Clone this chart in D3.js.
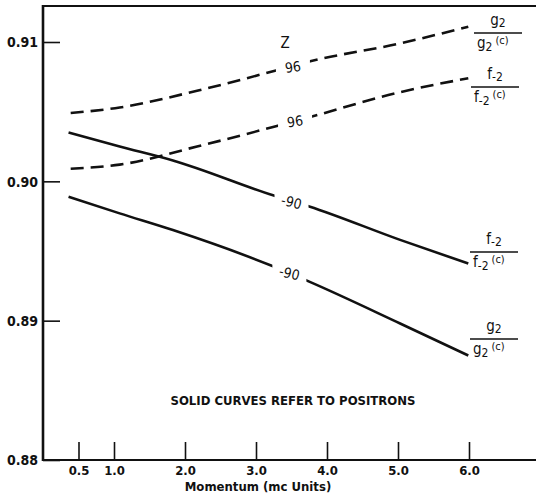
<!DOCTYPE html>
<html>
<head>
<meta charset="utf-8">
<script src="https://cdn.jsdelivr.net/npm/d3@7"></script>
<style>
  body { margin: 0; background: #fff; }
  svg text { font-family: "Liberation Sans Narrow", "DejaVu Sans Condensed", "Liberation Sans", sans-serif; fill: #111; }
</style>
</head>
<body>
<div id="chart"></div>
<script>
// momentum values (mc units) where the curves were read
const momentum = [0.39, 1.08, 2.17, 3.24, 3.75, 5.03, 5.99];
// Z = 96, dashed
const g2Z96 = [0.9049, 0.9053, 0.9065, 0.9079, 0.9086, 0.9099, 0.9111];
const f2Z96 = [0.9009, 0.9012, 0.9025, 0.9039, 0.9046, 0.9064, 0.9074];
// Z = -90, solid (positrons)
const momentumPos = [0.36, 1.08, 1.83, 3.24, 3.75, 5.03, 5.99];
const f2Zm90 = [0.9035, 0.9025, 0.9015, 0.8990, 0.8982, 0.8958, 0.8941];
const g2Zm90 = [0.8989, 0.8977, 0.8965, 0.8939, 0.8928, 0.8898, 0.8875];

const xTicks = [0.5, 1.0, 2.0, 3.0, 4.0, 5.0, 6.0];
const yTicks = [0.88, 0.89, 0.90, 0.91];

const width = 536, height = 495;
const svg = d3.select("#chart").append("svg")
    .attr("width", width)
    .attr("height", height);

const x = d3.scaleLinear().domain([0, 7]).range([43, 540]);
const y = d3.scaleLinear().domain([0.88, 0.91]).range([460, 42]);

// y axis (ticks point inward)
const yAxis = svg.append("g")
    .attr("transform", "translate(43,0)")
    .call(d3.axisLeft(y).tickValues(yTicks).tickSize(-17).tickPadding(5)
        .tickFormat(d => d3.format(".2f")(d)));
yAxis.select(".domain").remove();
yAxis.selectAll("line").attr("stroke", "#111").attr("stroke-width", 1.6);
yAxis.selectAll("text")
    .style("font-size", "14px")
    .style("font-weight", "bold")
    .attr("dy", "0.35em");

// x axis (ticks point up)
const xAxis = svg.append("g")
    .attr("transform", "translate(0,460)")
    .call(d3.axisBottom(x).tickValues(xTicks).tickSize(-18).tickPadding(6)
        .tickFormat(d3.format(".1f")));
xAxis.select(".domain").remove();
xAxis.selectAll("line").attr("stroke", "#111").attr("stroke-width", 1.6);
xAxis.selectAll("text")
    .style("font-size", "13px")
    .style("font-weight", "bold");

// frame: left, top, bottom
svg.append("line").attr("x1", 43).attr("x2", 43).attr("y1", 5).attr("y2", 461)
    .attr("stroke", "#111").attr("stroke-width", 2.6);
svg.append("line").attr("x1", 42).attr("x2", width).attr("y1", 6).attr("y2", 6)
    .attr("stroke", "#111").attr("stroke-width", 2);
svg.append("line").attr("x1", 42).attr("x2", width).attr("y1", 460).attr("y2", 460)
    .attr("stroke", "#111").attr("stroke-width", 2);

svg.append("text")
    .attr("x", 258).attr("y", 491)
    .attr("text-anchor", "middle")
    .style("font-size", "13px")
    .style("font-weight", "bold")
    .text("Momentum (mc Units)");

const line = d3.line()
    .x(d => x(d[0]))
    .y(d => y(d[1]))
    .curve(d3.curveMonotoneX);

const curves = [
    {xs: momentum, ys: g2Z96, dash: "13,7"},
    {xs: momentum, ys: f2Z96, dash: "13,7"},
    {xs: momentumPos, ys: f2Zm90, dash: null},
    {xs: momentumPos, ys: g2Zm90, dash: null}
];

curves.forEach(c => {
    svg.append("path")
        .datum(d3.zip(c.xs, c.ys))
        .attr("fill", "none")
        .attr("stroke", "#111")
        .attr("stroke-width", 2.6)
        .attr("stroke-dasharray", c.dash)
        .attr("d", line);
});

// curve labels, with a gap cut in the line
const curveLabels = [
    {t: "96", px: 3.52, v: 0.9082, rot: -8},
    {t: "96", px: 3.55, v: 0.9043, rot: -8},
    {t: "-90", px: 3.5, v: 0.8985, rot: 14},
    {t: "-90", px: 3.47, v: 0.8934, rot: 14}
];
curveLabels.forEach(l => {
    svg.append("rect")
        .attr("x", x(l.px) - 17).attr("y", y(l.v) - 10)
        .attr("width", 34).attr("height", 20)
        .attr("fill", "#fff");
    svg.append("text")
        .attr("transform", `translate(${x(l.px)},${y(l.v)}) rotate(${l.rot})`)
        .attr("text-anchor", "middle")
        .attr("dy", "0.35em")
        .style("font-size", "14px")
        .text(l.t);
});
svg.append("text")
    .attr("x", 285).attr("y", 48)
    .attr("text-anchor", "middle")
    .style("font-size", "15px")
    .text("Z");

svg.append("text")
    .attr("x", 293).attr("y", 405)
    .attr("text-anchor", "middle")
    .style("font-size", "13px")
    .style("font-weight", "bold")
    .text("SOLID CURVES REFER TO POSITRONS");

// right-hand fraction labels
function fraction(cx, cy, name, sub) {
    const g = svg.append("g").attr("transform", `translate(${cx},${cy})`);
    const num = g.append("text").attr("y", -8).attr("text-anchor", "middle")
        .style("font-size", "15px");
    num.append("tspan").text(name);
    num.append("tspan").attr("dy", 2).style("font-size", "12px").text(sub);
    g.append("line").attr("x1", -24).attr("x2", 24)
        .attr("stroke", "#111").attr("stroke-width", 1.3);
    const den = g.append("text").attr("x", -21).attr("y", 15)
        .style("font-size", "15px");
    den.append("tspan").text(name);
    den.append("tspan").attr("dy", 3).style("font-size", "12px").text(sub);
    den.append("tspan").attr("dx", 3).attr("dy", -7).style("font-size", "11px").text("(c)");
}
fraction(498, 33, "g", "2");
fraction(495, 87, "f", "-2");
fraction(494, 252, "f", "-2");
fraction(494, 339, "g", "2");
</script>
</body>
</html>
